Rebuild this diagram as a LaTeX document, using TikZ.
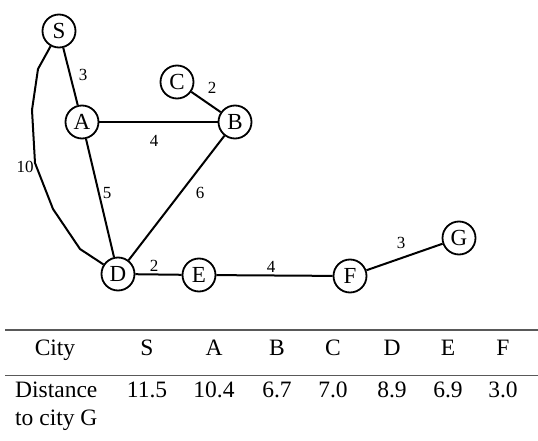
\documentclass[tikz,border=0pt]{standalone}
\usepackage{fontspec}
\setmainfont{Liberation Serif}
\begin{document}
\begin{tikzpicture}[x=1pt,y=-1pt,
  city/.style={draw,circle,line width=1.8pt,minimum size=33pt,inner sep=0pt,font=\fontsize{23}{23}\selectfont},
  edge/.style={line width=2pt},
  wt/.style={font=\fontsize{17}{17}\selectfont,inner sep=0pt},
  tb/.style={font=\fontsize{23.5}{24}\selectfont,inner sep=0pt,anchor=base},
  rule/.style={draw=black!65}]
\useasboundingbox (0,0) rectangle (538,441);
\node[city] (S) at (59,31) {S};
\node[city] (C) at (177,82) {C};
\node[city] (A) at (82,122) {A};
\node[city] (B) at (235,122) {B};
\node[city] (D) at (118,274) {D};
\node[city] (E) at (199,275) {E};
\node[city] (F) at (350,276) {F};
\node[city] (G) at (459,238) {G};
\draw[edge] (S) -- (A);
\draw[edge] (C) -- (B);
\draw[edge] (A) -- (B);
\draw[edge] (A) -- (D);
\draw[edge] (B) -- (D);
\draw[edge] (D) -- (E);
\draw[edge] (E) -- (F);
\draw[edge] (F) -- (G);
\coordinate (p1) at (38,69);
\coordinate (p2) at (32,110);
\coordinate (p3) at (35,163);
\coordinate (p4) at (53,209);
\coordinate (p5) at (80,249);
\draw[edge] (S) -- (p1) -- (p2) -- (p3) -- (p4) -- (p5) -- (D);
\node[wt] (w1) at (83,75) {3};
\node[wt] (w2) at (212,88) {2};
\node[wt] (w3) at (154,141) {4};
\node[wt] (w4) at (25,167) {10};
\node[wt] (w5) at (107,193) {5};
\node[wt] (w6) at (200,193) {6};
\node[wt] (w7) at (154,266) {2};
\node[wt] (w8) at (271,267) {4};
\node[wt] (w9) at (401,243) {3};
% table
\draw[rule,line width=2pt] (5,330) -- (538,330);
\draw[rule,line width=1pt] (5,375) -- (538,375);
\node[tb] (h0) at (55,355) {City};
\node[tb] (h1) at (147,355) {S};
\node[tb] (h2) at (214,355) {A};
\node[tb] (h3) at (277,355) {B};
\node[tb] (h4) at (333,355) {C};
\node[tb] (h5) at (392,355) {D};
\node[tb] (h6) at (448,355) {E};
\node[tb] (h7) at (503,355) {F};
\node[tb,anchor=base west] (r0) at (15,397) {Distance};
\node[tb,anchor=base west] (r0b) at (15,425) {to city G};
\node[tb] (v1) at (147,397) {11.5};
\node[tb] (v2) at (214,397) {10.4};
\node[tb] (v3) at (277,397) {6.7};
\node[tb] (v4) at (333,397) {7.0};
\node[tb] (v5) at (392,397) {8.9};
\node[tb] (v6) at (448,397) {6.9};
\node[tb] (v7) at (503,397) {3.0};
\end{tikzpicture}
\end{document}
